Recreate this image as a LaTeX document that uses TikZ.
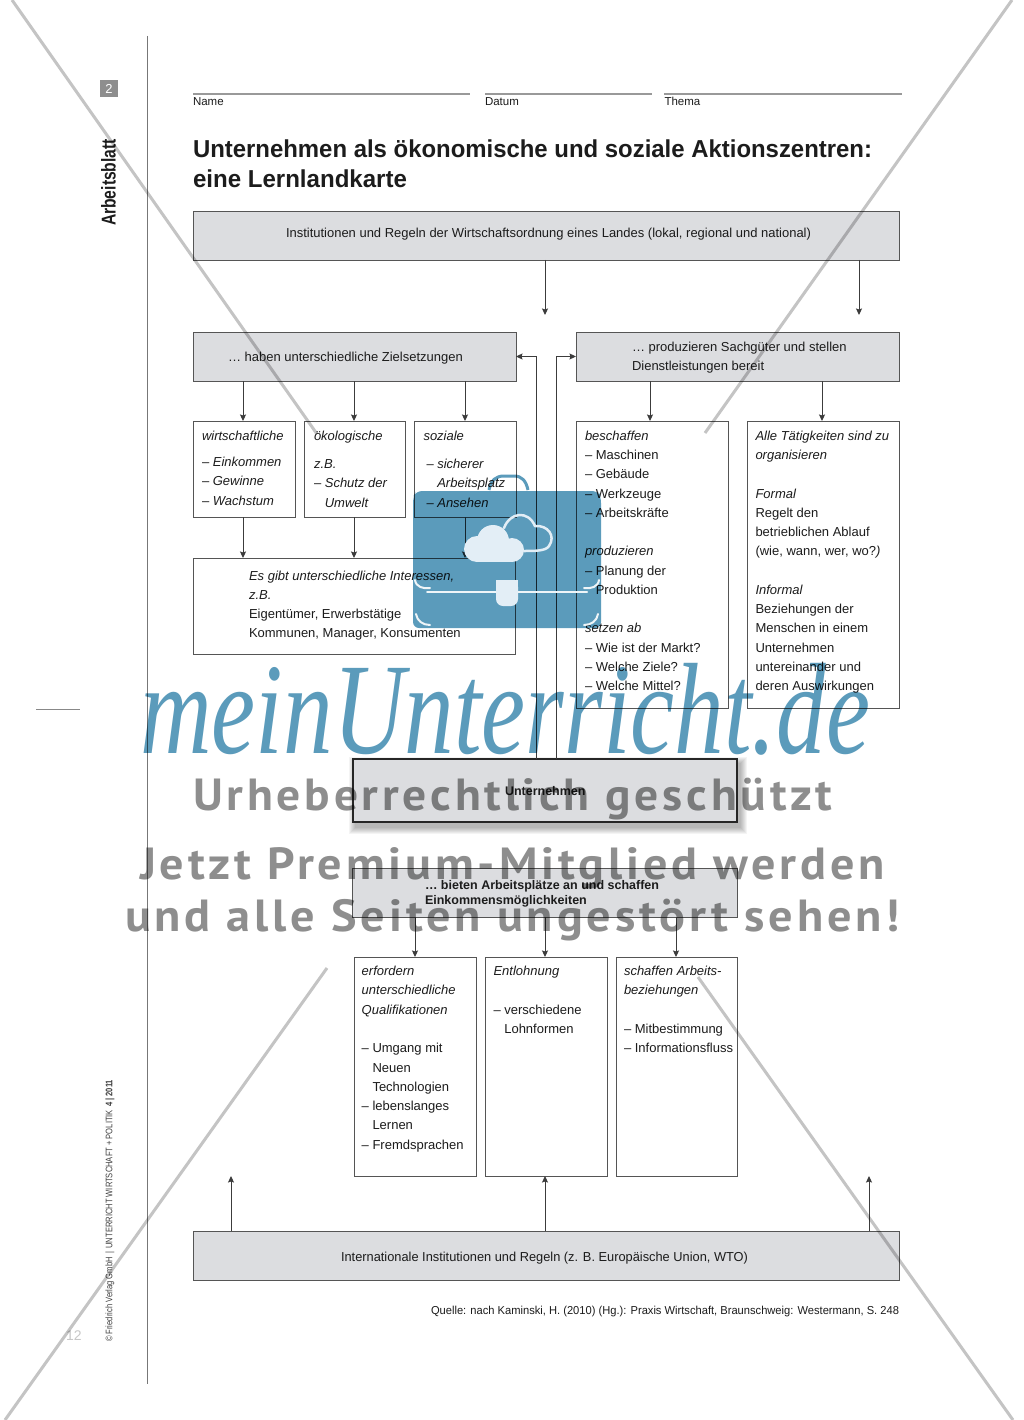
\documentclass[tikz,border=0pt]{standalone}
\usepackage{fontspec}
\setmainfont{Liberation Sans}
\newfontfamily\wmfont[LetterSpace=8]{PT Sans}
\newfontfamily\wmscriptfont{Liberation Serif}
\usetikzlibrary{arrows.meta,calc}
\definecolor{boxgrey}{HTML}{DCDDE0}
\definecolor{edgegrey}{HTML}{555555}
\definecolor{inkdark}{HTML}{1C1C1C}
\definecolor{wmblue}{HTML}{5B9BBB}
\definecolor{wmlight}{HTML}{E3EEF6}
\definecolor{wmgrey}{HTML}{8E8E8E}
\definecolor{crossgrey}{HTML}{C4C4C4}
\tikzset{
  greybox/.style={draw=edgegrey,line width=.85pt,fill=boxgrey,inner sep=0pt,outer sep=0pt,anchor=north west},
  whitebox/.style={draw=edgegrey,line width=.8pt,fill=white,inner sep=0pt,outer sep=0pt,anchor=north west},
  txt/.style={inner sep=0pt,outer sep=0pt,anchor=north west,align=left,text=inkdark,font=\fontsize{13}{19.27}\selectfont},
  smalltxt/.style={txt,font=\fontsize{11.5}{14}\selectfont},
  boldtxt/.style={txt,font=\fontsize{12.5}{15.6}\selectfont\bfseries},
  titletxt/.style={txt,font=\fontsize{24.5}{30}\selectfont\bfseries},
  arr/.style={draw=edgegrey!70!black,line width=1pt,-{Stealth[inset=1pt,length=6.5pt,width=6pt]}},
  cross/.style={draw=crossgrey,line width=3pt},
  wmline/.style={inner sep=0pt,outer sep=0pt,anchor=base west,text=wmgrey,font=\fontsize{45}{50}\selectfont\wmfont\bfseries}
}
\newcommand\mkbox[6]{\node[#1,minimum width={(#5-#3)*1pt},minimum height={(#6-#4)*1pt}] (#2) at (#3,#4) {};}
\newcommand\tx[5][txt]{\node[#1] (#2) at ({#3},{#4-12}) {\rule{0pt}{12pt}#5};}
\newcommand\fitw[2]{\resizebox{#1pt}{\height}{#2}}
\newcommand\da{– }
\newcommand\ind{\hspace*{10.8pt}}
\begin{document}
\begin{tikzpicture}[x=1pt,y=-1pt]
\useasboundingbox (0,0) rectangle (1024,1420);
\fill[white] (0,0) rectangle (1024,1420);
% page furniture
\coordinate (ruleT) at (147.5,36); \coordinate (ruleB) at (147.5,1384);
\draw[edgegrey!80,line width=1.2pt] (ruleT) -- (ruleB);
\coordinate (tickL) at (36,709.5); \coordinate (tickR) at (80,709.5);
\draw[edgegrey!70,line width=1pt] (tickL) -- (tickR);
\node[fill=wmgrey,minimum width=18pt,minimum height=17pt,inner sep=0pt,text=white,font=\fontsize{13}{15}\selectfont] (pagetag) at (109,88.5) {2};
\node[rotate=90,inner sep=0pt,text=inkdark,font=\fontsize{20}{22}\selectfont\bfseries] (sheet) at (108.5,182.5) {\fitw{87}{Arbeitsblatt}};
\node[rotate=90,inner sep=0pt,text=inkdark!85,anchor=west,font=\fontsize{9.5}{11}\selectfont] (copyr) at (110,1342) {\fitw{262}{© Friedrich Verlag GmbH \,|\, UNTERRICHT WIRTSCHAFT + POLITIK \,\textbf{4 | 2011}}};
\node[inner sep=0pt,text=black!22,font=\fontsize{14}{16}\selectfont] (pagenum) at (74,1336) {12};
% header
\coordinate (n1) at (193,94); \coordinate (n2) at (470,94);
\coordinate (d1) at (485,94); \coordinate (d2) at (652,94);
\coordinate (t1) at (664,94); \coordinate (t2) at (902,94);
\draw[black!40,line width=1.3pt] (n1) -- (n2) (d1) -- (d2) (t1) -- (t2);
\tx[smalltxt]{lname}{193}{105.7}{Name}
\tx[smalltxt]{ldate}{485}{105.7}{Datum}
\tx[smalltxt]{ltopic}{664.5}{105.7}{Thema}
\tx[titletxt]{title}{193}{152}{\fitw{679}{Unternehmen als ökonomische und soziale Aktionszentren:}}
\tx[titletxt]{titleb}{193}{182}{\fitw{214}{eine Lernlandkarte}}
% boxes
\mkbox{greybox}{top}{193}{211}{899}{260}
\mkbox{greybox}{goals}{193}{332}{516}{381}
\mkbox{greybox}{prod}{576}{332}{899}{381}
\mkbox{whitebox}{wirt}{193}{421}{295}{517}
\mkbox{whitebox}{oeko}{304}{421}{405}{517}
\mkbox{whitebox}{soz}{414}{421}{516}{517}
\mkbox{whitebox}{inter}{193}{558}{515}{654}
\mkbox{whitebox}{besch}{576}{421}{728}{708}
\mkbox{whitebox}{orga}{747}{421}{899}{708}
\mkbox{greybox}{bieten}{352}{868}{737}{917}
\mkbox{whitebox}{quali}{354}{957}{476}{1176}
\mkbox{whitebox}{lohn}{485}{957}{607}{1176}
\mkbox{whitebox}{bez}{616}{957}{737}{1176}
\mkbox{greybox}{intl}{193}{1231}{899}{1280}
% connectors
\coordinate (xA) at (545,315); \coordinate (xB) at (859,315);
\coordinate (xC) at (650,0); \coordinate (xD) at (822,0);
\coordinate (xF) at (536,0); \coordinate (xG) at (556,0);
\coordinate (xH) at (231,1176); \coordinate (xI) at (869,1176);
\coordinate (xJ) at (243,0); \coordinate (xK) at (354,0); \coordinate (xL) at (465,0);
\coordinate (xM) at (415,0); \coordinate (xN) at (545,0); \coordinate (xO) at (676,0);
\draw[arr] (top.south -| xA) -- (xA);
\draw[arr] (top.south -| xB) -- (xB);
\draw[arr] (goals.south -| xJ) -- (wirt.north -| xJ);
\draw[arr] (goals.south -| xK) -- (oeko.north -| xK);
\draw[arr] (goals.south -| xL) -- (soz.north -| xL);
\draw[arr] (prod.south -| xC) -- (besch.north -| xC);
\draw[arr] (prod.south -| xD) -- (orga.north -| xD);
\draw[arr] (wirt.south -| xJ) -- (inter.north -| xJ);
\draw[arr] (oeko.south -| xK) -- (inter.north -| xK);
\draw[arr] (soz.south -| xL) -- (inter.north -| xL);
\draw[arr] (bieten.south -| xM) -- (quali.north -| xM);
\draw[arr] (bieten.south -| xN) -- (lohn.north -| xN);
\draw[arr] (bieten.south -| xO) -- (bez.north -| xO);
\draw[arr] (intl.north -| xH) -- (xH);
\draw[arr] (intl.north -| xN) -- (lohn.south -| xN);
\draw[arr] (intl.north -| xI) -- (xI);
% central box with soft shadow
\foreach \s in {7,6,5,4,3,2,1}{\fill[black,opacity=.045] ({353+3-\s},{759+5-\s}) rectangle ({737+3+\s},{822+5+\s});}
\node[draw=black!85,line width=2pt,fill=boxgrey,inner sep=0pt,outer sep=0pt,anchor=north west,minimum width=384pt,minimum height=63pt] (untern) at (353,759) {};
\draw[arr] (untern.north -| xF) |- (goals.east);
\draw[arr] (untern.north -| xG) |- (prod.west);
% texts
\tx{ttop}{286}{237.5}{\fitw{525}{Institutionen und Regeln der Wirtschaftsordnung eines Landes (lokal, regional und national)}}
\tx{tgoals}{228}{361}{… haben unterschiedliche Zielsetzungen}
\tx{tprod}{632}{351.7}{… produzieren Sachgüter und stellen\\Dienstleistungen bereit}
\tx{twirt}{202}{440}{\textit{wirtschaftliche}\\[7.4pt]\da\textit{Einkommen}\\\da\textit{Gewinne}\\\da\textit{Wachstum}}
\tx{toeko}{314}{440}{\textit{ökologische}\\[9.4pt]\textit{z.B.}\\\da\textit{Schutz der}\\\ind\textit{Umwelt}}
\tx{tsoz}{423.5}{440}{\textit{soziale}}
\tx{tsozb}{426.5}{468.7}{\da\textit{sicherer}\\\ind\textit{Arbeitsplatz}\\\da\textit{Ansehen}}
\tx{tinter}{249}{580}{\textit{Es gibt unterschiedliche Interessen,}\\\textit{z.B.}\\Eigentümer, Erwerbstätige\\Kommunen, Manager, Konsumenten}
\tx{tbesch}{585}{440.2}{\textit{beschaffen}\\\da Maschinen\\\da Gebäude\\\da Werkzeuge\\\da Arbeitskräfte\\\mbox{}\\\textit{produzieren}\\\da Planung der\\\ind Produktion\\\mbox{}\\\textit{setzen ab}\\\da Wie ist der Markt?\\\da Welche Ziele?\\\da Welche Mittel?}
\tx{torga}{755.5}{440.2}{\textit{Alle Tätigkeiten sind zu}\\\textit{organisieren}\\\mbox{}\\\textit{Formal}\\Regelt den\\betrieblichen Ablauf\\(wie, wann, wer, wo?\textit{)}\\\mbox{}\\\textit{Informal}\\Beziehungen der\\Menschen in einem\\Unternehmen\\untereinander und\\deren Auswirkungen}
\tx[boldtxt]{tuntern}{505}{795}{Unternehmen}
\tx[boldtxt]{tbieten}{425}{889}{… bieten Arbeitsplätze an und schaffen\\Einkommensmöglichkeiten}
\tx{tquali}{361.7}{975.7}{\textit{erfordern}\\\textit{unterschiedliche}\\\textit{Qualifikationen}\\\mbox{}\\\da Umgang mit\\\ind Neuen\\\ind Technologien\\\da lebenslanges\\\ind Lernen\\\da Fremdsprachen}
\tx{tlohn}{493.5}{975.7}{\textit{Entlohnung}\\\mbox{}\\\da verschiedene\\\ind Lohnformen}
\tx{tbez}{624}{975.7}{\textit{schaffen Arbeits-}\\\textit{beziehungen}\\\mbox{}\\\da Mitbestimmung\\\da Informationsfluss}
\tx{tintl}{341}{1261}{\fitw{407}{Internationale Institutionen und Regeln (z. B. Europäische Union, WTO)}}
\tx[smalltxt]{tsource}{431}{1314.5}{\fitw{468}{Quelle: nach Kaminski, H. (2010) (Hg.): Praxis Wirtschaft, Braunschweig: Westermann, S. 248}}
% overlay marks
\begin{scope}[blend mode=multiply]
\coordinate (c1a) at (12,0);\coordinate (c1b) at (317,434);
\coordinate (c2a) at (1012,0);\coordinate (c2b) at (705,433);
\coordinate (c3a) at (5,1420);\coordinate (c3b) at (327,968);
\coordinate (c4a) at (1013,1420);\coordinate (c4b) at (698,977);
\draw[cross] (c1a) -- (c1b);
\draw[cross] (c2a) -- (c2b);
\draw[cross] (c3a) -- (c3b);
\draw[cross] (c4a) -- (c4b);
% briefcase
\fill[wmblue,rounded corners=6pt] (416,491) -- (598,491) -- (601,497) -- (601,628) -- (413,628) -- (413,497) -- cycle;
\draw[wmblue,line width=3pt] (489,490) .. controls (491,480) and (496,476) .. (504,476) -- (514,476) .. controls (522,476) and (526,481) .. (528,490);
% script line
\node[inner sep=0pt,anchor=base west,text=wmblue,font=\fontsize{100}{110}\selectfont\wmscriptfont\itshape] (wmscript) at (140,753) {\resizebox{730pt}{1.3\height}{meinUnterricht.de}};
% grey lines
\node[wmline] (wm1) at (193,810) {\fitw{639}{Urheberrechtlich geschützt}};
\node[wmline] (wm2) at (140,879) {\fitw{745}{Jetzt Premium-Mitglied werden}};
\node[wmline] (wm3) at (125,931) {\fitw{775}{und alle Seiten ungestört sehen!}};
\end{scope}
% briefcase details
\draw[wmlight,line width=2.5pt,line cap=round] (504,528) .. controls (510,512) and (528,510) .. (535,526) .. controls (548,525) and (556,536) .. (549,546) .. controls (546,551) and (535,551) .. (524,551);
\fill[wmlight] (477,549) circle (13);
\fill[wmlight] (493,541) circle (16);
\fill[wmlight] (512,550) circle (12);
\fill[wmlight] (476,549) rectangle (512,562);
\draw[white!90!wmblue,line width=2pt,line cap=round] (427,592) -- (496,592) (518,592) -- (587,592);
\draw[white!90!wmblue,line width=2pt,line cap=round] (415,580) .. controls (416,587) and (423,589) .. (430,588) (599,580) .. controls (598,587) and (591,589) .. (584,588);
\draw[white!90!wmblue,line width=2pt,line cap=round] (416,614) .. controls (417,621) and (423,625) .. (430,625) (598,614) .. controls (597,621) and (591,625) .. (584,625);
\fill[wmlight,rounded corners=7pt] (496,580) -- (496,606) -- (518,606) -- (518,580) -- cycle;
\fill[wmlight] (496,580) rectangle (518,590);
\end{tikzpicture}
\end{document}
